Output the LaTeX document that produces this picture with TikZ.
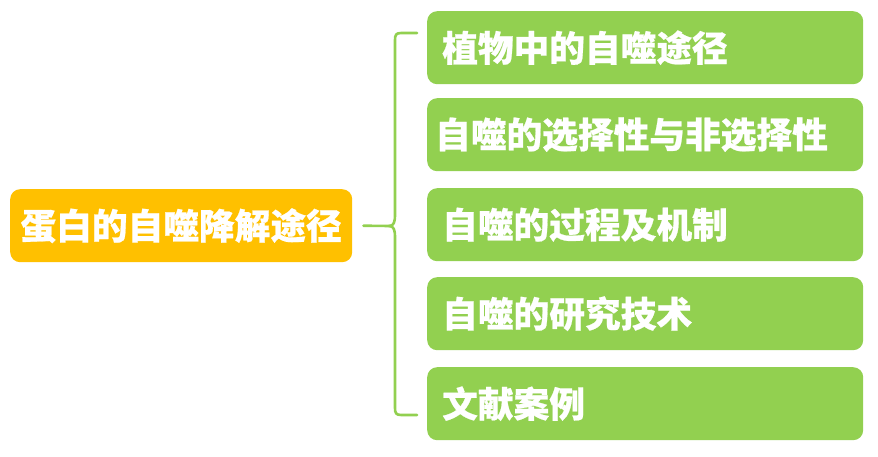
\documentclass[tikz,border=0pt]{standalone}
\usepackage{fontspec}
\newfontfamily\cjk{Noto Sans CJK SC}[BoldFeatures={FakeBold=0.6}]
\definecolor{lgreen}{HTML}{92D050}
\definecolor{gold}{HTML}{FFC000}
\begin{document}
\begin{tikzpicture}[x=1pt,y=-1pt,
  basebox/.style={rounded corners=10pt, inner ysep=0pt, minimum height=73pt,
    text=white, font=\cjk\bfseries\fontsize{35.7}{40}\selectfont, anchor=north west},
  leaf/.style={basebox, fill=lgreen, inner xsep=15pt, text width=406pt, align=left},
  rootbox/.style={basebox, fill=gold, inner xsep=0pt, minimum width=342pt, align=center},
  brace/.style={draw=lgreen, line width=2.6pt, line cap=round}]
\useasboundingbox (0,0) rectangle (878,457);
\node[rootbox] (root) at (10,189) {蛋白的自噬降解途径};
\node[leaf] (b1) at (427,11) {植物中的自噬途径};
\node[leaf, inner xsep=8pt, text width=420pt] (b2) at (427,98) {自噬的选择性与非选择性};
\node[leaf] (b3) at (427,188) {自噬的过程及机制};
\node[leaf] (b4) at (427,277) {自噬的研究技术};
\node[leaf] (b5) at (427,367) {文献案例};
\coordinate (tip) at (389,226);
\coordinate (top) at (417,33);
\coordinate (bot) at (417,415);
\draw[brace] ([xshift=11pt]root.east) -- (tip);
\draw[brace] (top) -- (401,33) .. controls (396,33) and (395,35) .. (395,40)
  -- (395,214) .. controls (395,222) and (394,226) .. (tip);
\draw[brace] (bot) -- (401,415) .. controls (396,415) and (395,413) .. (395,408)
  -- (395,238) .. controls (395,230) and (394,226) .. (tip);
\end{tikzpicture}
\end{document}
